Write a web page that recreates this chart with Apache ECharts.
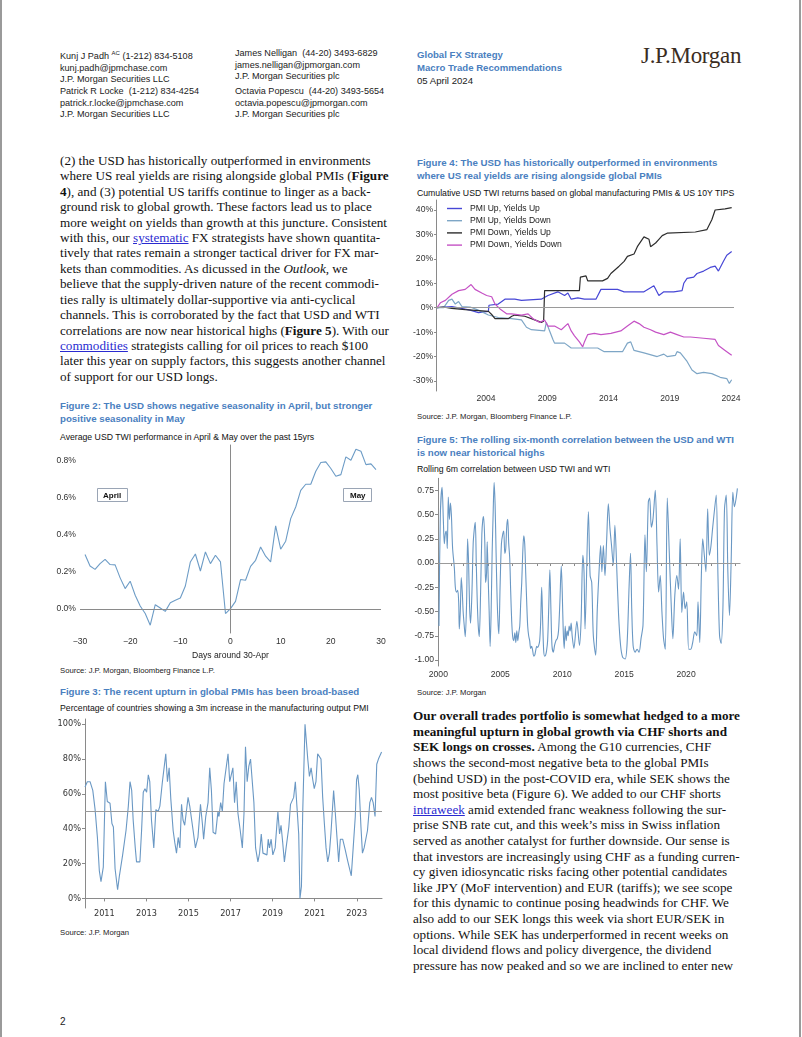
<!DOCTYPE html>
<html><head><meta charset="utf-8">
<script src="https://cdn.jsdelivr.net/npm/echarts@6/dist/echarts.min.js"></script>
<style>
html,body{margin:0;padding:0;background:#fff;}
body{width:802px;height:1037px;position:relative;overflow:hidden;font-family:"Liberation Sans",Arial,sans-serif;}
.t{position:absolute;white-space:nowrap;}
.hd{font-size:9.1px;line-height:11.6px;color:#222;}
.hb{font-size:9.6px;line-height:13px;color:#222;}
.blue{color:#4a80c0;font-weight:bold;}
.ft{font-weight:bold;color:#4a80c0;font-size:9.7px;line-height:13.3px;}
.st{font-size:8.7px;line-height:12px;color:#111;}
.src{font-size:7.7px;line-height:10px;color:#222;}
.body{font-family:"Liberation Serif","Times New Roman",serif;font-size:13.15px;color:#111;}
.ch{position:absolute;}
a{color:#2a2ad0;text-decoration:underline;}
.border{position:absolute;top:0;width:2px;height:1037px;background:#9a9a9a;}
</style>
</head><body>
<div class="border" style="left:0"></div>
<div class="border" style="left:799px"></div>

<div class="t hd" style="left:60px;top:48px">Kunj J Padh <sup style="font-size:6px">AC</sup> (1-212) 834-5108<br>kunj.padh@jpmchase.com<br>J.P. Morgan Securities LLC</div>
<div class="t hd" style="left:60px;top:86px">Patrick R Locke&nbsp; (1-212) 834-4254<br>patrick.r.locke@jpmchase.com<br>J.P. Morgan Securities LLC</div>
<div class="t hd" style="left:235px;top:48px">James Nelligan&nbsp; (44-20) 3493-6829<br>james.nelligan@jpmorgan.com<br>J.P. Morgan Securities plc</div>
<div class="t hd" style="left:235px;top:86px">Octavia Popescu&nbsp; (44-20) 3493-5654<br>octavia.popescu@jpmorgan.com<br>J.P. Morgan Securities plc</div>
<div class="t hb" style="left:417px;top:47.5px"><span class="blue">Global FX Strategy</span><br><span class="blue">Macro Trade Recommendations</span><br>05 April 2024</div>
<div class="t" style="left:641px;top:42px;font-family:'Liberation Serif',serif;font-size:23px;line-height:28px;color:#3a2c22;letter-spacing:-0.3px">J.P.Morgan</div>

<div class="t body" style="left:60px;top:152.8px;line-height:15.43px">(2) the USD has historically outperformed in environments<br>where US real yields are rising alongside global PMIs (<b>Figure</b><br><b>4</b>), and (3) potential US tariffs continue to linger as a back-<br>ground risk to global growth. These factors lead us to place<br>more weight on yields than growth at this juncture. Consistent<br>with this, our <a>systematic</a> FX strategists have shown quantita-<br>tively that rates remain a stronger tactical driver for FX mar-<br>kets than commodities. As dicussed in the <i>Outlook</i>, we<br>believe that the supply-driven nature of the recent commodi-<br>ties rally is ultimately dollar-supportive via anti-cyclical<br>channels. This is corroborated by the fact that USD and WTI<br>correlations are now near historical highs (<b>Figure 5</b>). With our<br><a>commodities</a> strategists calling for oil prices to reach $100<br>later this year on supply factors, this suggests another channel<br>of support for our USD longs.</div>

<div class="t body" style="left:413px;top:708.2px;line-height:15.6px"><b>Our overall trades portfolio is somewhat hedged to a more<br>meaningful upturn in global growth via CHF shorts and<br>SEK longs on crosses.</b> Among the G10 currencies, CHF<br>shows the second-most negative beta to the global PMIs<br>(behind USD) in the post-COVID era, while SEK shows the<br>most positive beta (Figure 6). We added to our CHF shorts<br><a>intraweek</a> amid extended franc weakness following the sur-<br>prise SNB rate cut, and this week’s miss in Swiss inflation<br>served as another catalyst for further downside. Our sense is<br>that investors are increasingly using CHF as a funding curren-<br>cy given idiosyncatic risks facing other potential candidates<br>like JPY (MoF intervention) and EUR (tariffs); we see scope<br>for this dynamic to continue posing headwinds for CHF. We<br>also add to our SEK longs this week via short EUR/SEK in<br>options. While SEK has underperformed in recent weeks on<br>local dividend flows and policy divergence, the dividend<br>pressure has now peaked and so we are inclined to enter new</div>

<div class="t ft" style="left:417px;top:156px">Figure 4: The USD has historically outperformed in environments<br>where US real yields are rising alongside global PMIs</div>
<div class="t st" style="left:417px;top:186.5px">Cumulative USD TWI returns based on global manufacturing PMIs &amp; US 10Y TIPS</div>
<div class="t src" style="left:417px;top:412px">Source: J.P. Morgan, Bloomberg Finance L.P.</div>

<div class="t ft" style="left:417px;top:433px">Figure 5: The rolling six-month correlation between the USD and WTI<br>is now near historical highs</div>
<div class="t st" style="left:417px;top:462.5px">Rolling 6m correlation between USD TWI and WTI</div>
<div class="t src" style="left:417px;top:688px">Source: J.P. Morgan</div>

<div class="t ft" style="left:60px;top:398.5px">Figure 2: The USD shows negative seasonality in April, but stronger<br>positive seasonality in May</div>
<div class="t st" style="left:60px;top:430.5px">Average USD TWI performance in April &amp; May over the past 15yrs</div>
<div class="t src" style="left:60px;top:666px">Source: J.P. Morgan, Bloomberg Finance L.P.</div>

<div class="t ft" style="left:60px;top:685px">Figure 3: The recent upturn in global PMIs has been broad-based</div>
<div class="t st" style="left:60px;top:702px">Percentage of countries showing a 3m increase in the manufacturing output PMI</div>
<div class="t src" style="left:60px;top:928px">Source: J.P. Morgan</div>

<div class="t" style="left:60px;top:1015px;font-size:10px;line-height:14px;color:#222">2</div>

<div id="c4" class="ch" style="left:410px;top:195px;width:392px;height:215px"></div>
<div id="c5" class="ch" style="left:410px;top:474px;width:392px;height:215px"></div>
<div id="c2" class="ch" style="left:50px;top:440px;width:350px;height:225px"></div>
<div id="c3" class="ch" style="left:50px;top:712px;width:350px;height:215px"></div>

<script>
// ---------- Figure 4 data: [year, cumulative return %] ----------
var pmiUpYieldsUp = [[2000,0],[2001.22,0.5],[2002.7,-1],[2003.38,-2],[2004.19,-1.5],[2004.24,1],[2005,1.5],[2005.54,3.5],[2006.35,3.5],[2006.89,3],[2008.51,3.5],[2009.05,5],[2009.86,6.5],[2010.41,5],[2010.68,6],[2010.95,3.5],[2011.49,4],[2012.03,3.5],[2012.97,3.5],[2013.38,7.5],[2014.73,7.5],[2015.27,6.5],[2016.89,6.5],[2017.7,9],[2018.11,5],[2018.51,6.5],[2019.32,6.5],[2020.0,7],[2020.14,10],[2020.41,12],[2020.95,12.5],[2021.22,14],[2021.76,15],[2022.3,16.5],[2022.7,17],[2022.97,15],[2023.38,19],[2023.65,21.5],[2024.05,23]];
var pmiUpYieldsDown = [[2000,0],[2000.54,0],[2000.95,3],[2001.22,3.5],[2001.49,1.5],[2001.76,2.5],[2002.03,0.5],[2002.7,0.3],[2003.38,-1],[2004.19,-3],[2005.0,-4],[2006.08,-4.5],[2006.89,-5],[2007.3,-8],[2007.7,-9],[2008.78,-9.5],[2008.92,-6],[2009.19,-9.5],[2009.46,-13],[2009.59,-14.5],[2010.41,-14.5],[2010.95,-16.5],[2012.03,-16.5],[2013.11,-16.5],[2013.65,-18],[2015.14,-18],[2015.54,-14.5],[2015.81,-14],[2016.08,-17.5],[2016.89,-18.5],[2017.97,-20],[2018.51,-19],[2018.78,-20],[2019.46,-19.5],[2019.59,-18],[2019.86,-18.5],[2020.41,-22],[2020.81,-25.5],[2021.22,-27],[2021.76,-26.5],[2022.43,-27],[2023.11,-28.5],[2023.65,-29],[2023.86,-31],[2024.05,-29.5]];
var pmiDownYieldsUp = [[2000.0,0],[2000.5,0.3],[2001.2,-0.3],[2002.3,-0.8],[2003.4,-1.2],[2004.2,-1.5],[2004.5,-3],[2004.73,-4.5],[2005.81,-4.5],[2006.1,-3.5],[2006.35,-3],[2007.16,-3.5],[2007.97,-5],[2008.51,-6],[2008.7,-5.5],[2008.78,7],[2011.62,7],[2011.7,12.5],[2012.16,13],[2012.3,11],[2012.43,10.5],[2013.51,11],[2013.92,12],[2014.19,14],[2014.86,17],[2015.27,19],[2015.54,21],[2016.08,22],[2016.35,25],[2016.89,29],[2017.3,28],[2017.43,25],[2017.84,26.5],[2018.11,28],[2018.38,29.5],[2018.78,30.5],[2021.08,31],[2022.03,32],[2022.43,36],[2022.7,40],[2023.51,40.5],[2024.05,41]];
var pmiDownYieldsDown = [[2000,0],[2000.27,2],[2000.68,3],[2001.22,5.5],[2001.76,7],[2002.3,7.5],[2002.78,9.5],[2003.1,7.5],[2003.65,6],[2004.05,5],[2004.46,4.5],[2004.73,1.5],[2005.14,-0.5],[2005.68,-2.5],[2006.08,-2.5],[2006.89,-3],[2007.43,-2.5],[2007.84,-4.5],[2008.38,-6],[2008.78,-5],[2009.05,-7.5],[2009.59,-7.5],[2010.14,-9],[2010.68,-6.5],[2010.95,-9.5],[2011.22,-11.5],[2011.62,-14],[2011.89,-16],[2012.03,-14],[2012.3,-11],[2012.84,-10.5],[2013.38,-11],[2014.19,-10.5],[2015.0,-9.5],[2015.54,-7.5],[2016.08,-5.5],[2016.49,-6.5],[2016.89,-8],[2017.43,-9],[2017.84,-10],[2018.51,-11],[2019.05,-10],[2019.59,-11],[2020.14,-12],[2020.68,-12],[2021.76,-12.5],[2022.7,-13],[2022.97,-15.5],[2023.51,-17.5],[2024.05,-19.5]];
var fig4Names = ['PMI Up, Yields Up','PMI Up, Yields Down','PMI Down, Yields Up','PMI Down, Yields Down'];
var fig4YTicks = [-30,-20,-10,0,10,20,30,40];
var fig4XTicks = [2004,2009,2014,2019,2024];

// ---------- Figure 2 data ----------
var seasonDays = [-29,-28,-27,-26,-25,-24,-23,-22,-21,-20,-19,-18,-17,-16,-15,-14,-13,-12,-11,-10,-9,-8,-7,-6,-5,-4,-3,-2,-1,0,1,2,3,4,5,6,7,8,9,10,11,12,13,14,15,16,17,18,19,20,21,22,23,24,25,26,27,28,29];
var seasonPerf = [0.294,0.232,0.214,0.245,0.268,0.24,0.238,0.168,0.11,0.15,0.074,0.016,-0.025,-0.088,0.023,0.005,-0.013,0.034,0.047,0.059,0.124,0.254,0.297,0.205,0.308,0.245,0.29,0.254,-0.025,0.002,0.041,0.159,0.155,0.23,0.263,0.335,0.285,0.254,0.449,0.323,0.366,0.488,0.551,0.641,0.674,0.674,0.744,0.791,0.795,0.759,0.717,0.726,0.822,0.804,0.863,0.852,0.78,0.784,0.753];
var fig2XTicks = [-30,-20,-10,0,10,20,30];
var fig2YTicks = [0,0.2,0.4,0.6,0.8];

// ---------- Figure 3 data: [year, % of countries] ----------
var pmiBreadth = [[2010.08,64],[2010.19,67],[2010.32,67],[2010.45,62],[2010.56,51],[2010.67,35],[2010.76,16],[2010.84,9.6],[2010.95,18],[2011.05,67],[2011.14,55.6],[2011.27,54.6],[2011.36,43],[2011.43,41],[2011.51,17],[2011.58,17],[2011.63,5],[2011.71,12.5],[2011.77,13],[2011.87,25],[2011.93,25.5],[2012.03,39],[2012.14,53],[2012.22,67],[2012.30,62],[2012.37,45],[2012.47,29],[2012.53,21],[2012.69,21],[2012.77,39],[2012.85,61],[2012.93,63],[2013.01,61],[2013.09,71],[2013.16,67],[2013.24,45],[2013.35,29],[2013.45,51],[2013.56,50],[2013.64,53],[2013.76,67],[2013.84,67],[2013.92,83],[2014.00,67],[2014.08,75],[2014.16,57],[2014.27,39],[2014.35,32],[2014.43,26],[2014.51,35],[2014.59,29],[2014.67,54],[2014.74,45],[2014.82,42],[2014.90,42],[2014.98,58],[2015.06,53],[2015.14,54],[2015.22,39],[2015.33,29],[2015.45,35],[2015.57,54],[2015.66,43],[2015.72,34],[2015.82,47],[2015.93,55],[2016.01,75],[2016.09,62],[2016.17,38],[2016.29,37],[2016.40,50],[2016.45,47],[2016.53,55],[2016.61,50],[2016.69,66],[2016.77,66],[2016.88,83],[2016.96,67],[2017.03,67],[2017.11,75],[2017.19,55],[2017.27,67],[2017.35,49],[2017.46,39],[2017.56,29],[2017.64,49],[2017.71,87],[2017.79,67],[2017.87,76],[2017.95,80],[2018.03,80],[2018.11,55],[2018.19,29],[2018.30,21],[2018.38,26],[2018.46,37],[2018.54,26],[2018.61,25],[2018.73,25],[2018.79,34],[2018.85,29],[2018.93,34],[2019.01,25],[2019.12,29],[2019.25,50],[2019.33,37],[2019.40,42],[2019.48,32],[2019.56,21],[2019.64,29],[2019.77,41],[2019.85,54],[2019.93,54],[2020.00,58],[2020.08,67],[2020.16,67],[2020.24,37],[2020.30,0],[2020.37,7],[2020.43,49],[2020.54,100],[2020.60,100],[2020.67,80],[2020.75,70],[2020.83,75],[2020.91,68],[2020.98,63],[2021.06,67],[2021.14,83],[2021.22,83],[2021.30,80],[2021.38,58],[2021.46,43],[2021.54,29],[2021.62,21],[2021.70,26],[2021.77,37],[2021.90,62],[2021.98,49],[2022.06,35],[2022.14,21],[2022.22,34],[2022.33,34],[2022.45,28],[2022.56,22],[2022.64,18],[2022.74,13],[2022.83,29],[2022.93,47],[2022.99,68],[2023.05,71],[2023.12,62],[2023.20,41],[2023.27,26],[2023.35,29],[2023.43,29],[2023.51,39],[2023.62,55],[2023.70,58],[2023.78,55],[2023.87,47],[2023.95,77],[2024.03,80],[2024.11,80],[2024.18,84]];
var fig3XTicks = [2011,2013,2015,2017,2019,2021,2023];
var fig3YTicks = [0,20,40,60,80,100];

// ---------- Figure 5 data: [year, correlation] ----------
var usdWtiCorr = [[2000.05,-0.65],[2000.16,0.5],[2000.3,0.78],[2000.4,0.45],[2000.48,0.2],[2000.56,0.3],[2000.64,0.33],[2000.72,0.15],[2000.8,0.68],[2000.89,0.45],[2000.97,0.62],[2001.05,0.5],[2001.15,0.15],[2001.29,-0.05],[2001.37,-0.25],[2001.47,-0.3],[2001.56,-0.28],[2001.64,-0.4],[2001.69,-0.68],[2001.77,-0.5],[2001.85,-0.15],[2001.93,-0.3],[2002.0,-0.5],[2002.09,-0.65],[2002.17,-0.76],[2002.28,-0.4],[2002.36,0.25],[2002.44,0.0],[2002.52,-0.45],[2002.6,-0.62],[2002.71,-0.3],[2002.81,0.2],[2002.9,0.35],[2002.98,0.42],[2003.06,0.0],[2003.14,-0.4],[2003.22,-0.65],[2003.3,-0.76],[2003.41,-0.3],[2003.51,0.3],[2003.59,0.45],[2003.65,0.48],[2003.75,0.2],[2003.81,-0.2],[2003.89,-0.1],[2003.94,0.22],[2004.02,-0.15],[2004.1,-0.5],[2004.18,-0.86],[2004.26,-0.5],[2004.34,0.1],[2004.42,0.5],[2004.5,0.83],[2004.58,0.6],[2004.66,0.1],[2004.75,-0.4],[2004.83,-0.65],[2004.88,-0.73],[2004.99,-0.2],[2005.09,0.2],[2005.2,0.3],[2005.28,0.33],[2005.36,0.1],[2005.44,0.15],[2005.52,0.38],[2005.6,0.45],[2005.68,0.2],[2005.76,0.05],[2005.84,-0.3],[2005.92,-0.6],[2006.0,-0.76],[2006.09,-0.8],[2006.17,-0.72],[2006.25,-0.82],[2006.33,-0.7],[2006.41,-0.8],[2006.49,-0.72],[2006.57,-0.65],[2006.65,-0.4],[2006.73,-0.2],[2006.81,0.1],[2006.89,0.28],[2006.97,0.2],[2007.05,-0.1],[2007.13,-0.4],[2007.21,-0.65],[2007.29,-0.75],[2007.37,-0.8],[2007.45,-0.88],[2007.53,-0.86],[2007.61,-0.9],[2007.7,-0.96],[2007.78,-0.95],[2007.86,-0.9],[2007.94,-0.86],[2008.02,-0.87],[2008.1,-0.85],[2008.18,-0.8],[2008.26,-0.6],[2008.34,-0.25],[2008.42,-0.6],[2008.5,-0.9],[2008.58,-0.96],[2008.66,-0.95],[2008.74,-0.9],[2008.82,-0.8],[2008.9,-0.5],[2009.0,-0.07],[2009.09,-0.5],[2009.17,-0.85],[2009.28,-0.92],[2009.38,-0.85],[2009.49,-0.8],[2009.6,-0.78],[2009.7,-0.7],[2009.81,-0.4],[2009.92,-0.03],[2010.0,-0.3],[2010.08,-0.7],[2010.16,-0.88],[2010.24,-0.65],[2010.32,-0.8],[2010.4,-0.7],[2010.48,-0.75],[2010.56,-0.65],[2010.64,-0.7],[2010.72,-0.62],[2010.8,-0.75],[2010.94,-0.88],[2011.18,-0.6],[2011.39,-0.85],[2011.52,-0.6],[2011.66,0.08],[2011.76,-0.1],[2011.84,-0.68],[2012.11,0.53],[2012.25,-0.13],[2012.38,-0.2],[2012.51,-0.75],[2012.7,-0.95],[2012.83,-0.47],[2012.97,-0.09],[2013.1,0.18],[2013.2,-0.09],[2013.32,0.18],[2013.45,-0.13],[2013.58,0.22],[2013.72,0.61],[2013.85,0.36],[2013.98,0.18],[2014.12,-0.02],[2014.25,0.39],[2014.39,-0.02],[2014.55,-0.54],[2014.71,-0.85],[2014.87,-0.97],[2015.08,-0.99],[2015.24,-0.82],[2015.4,-0.23],[2015.51,0.1],[2015.61,-0.47],[2015.72,-0.85],[2015.88,-0.92],[2016.04,-0.89],[2016.2,-0.92],[2016.36,-0.78],[2016.52,-0.64],[2016.68,0.29],[2016.79,-0.09],[2016.95,0.63],[2017.06,0.67],[2017.19,0.37],[2017.33,0.46],[2017.51,0.75],[2017.65,0.18],[2017.78,-0.3],[2017.91,-0.13],[2018.05,-0.51],[2018.18,-0.78],[2018.32,-0.89],[2018.48,0.67],[2018.66,0.04],[2018.8,-0.44],[2018.93,-0.78],[2019.09,-0.33],[2019.25,-0.13],[2019.39,-0.27],[2019.52,0.25],[2019.65,-0.51],[2019.79,-0.3],[2019.92,-0.47],[2020.05,-0.4],[2020.21,-0.89],[2020.37,-0.89],[2020.53,-0.82],[2020.7,-0.71],[2020.86,-0.75],[2020.96,-0.4],[2021.1,-0.82],[2021.23,-0.13],[2021.34,0.25],[2021.47,0.08],[2021.6,-0.09],[2021.74,0.56],[2021.87,0.08],[2022.0,0.17],[2022.14,0.36],[2022.3,0.56],[2022.43,0.7],[2022.57,-0.13],[2022.7,-0.75],[2022.83,-0.83],[2022.97,-0.47],[2023.1,0.56],[2023.24,0.7],[2023.37,-0.09],[2023.5,-0.54],[2023.64,0.04],[2023.77,0.73],[2023.9,0.58],[2024.04,0.67],[2024.14,0.77]];
var fig5XTicks = [2000,2005,2010,2015,2020];
var fig5XMinorTicks = [2000,2001,2002,2003,2004,2005,2006,2007,2008,2009,2010,2011,2012,2013,2014,2015,2016,2017,2018,2019,2020,2021,2022,2023,2024];
var fig5YTicks = [-1,-0.75,-0.5,-0.25,0,0.25,0.5,0.75];

var AX = '#8a8a8a';
function yearFmt(v){ return String(Math.round(v)); }
function zeroLine(axis, val){
  var d = {}; d[axis] = val;
  return {silent:true,symbol:'none',label:{show:false},lineStyle:{color:'#9a9a9a',width:1,type:'solid'},data:[d]};
}

// Figure 4
var c4 = echarts.init(document.getElementById('c4'));
var fig4Colors = ['#4747d6','#7ea6c6','#2d2d2d','#c552c5'];
var fig4Data = [pmiUpYieldsUp, pmiUpYieldsDown, pmiDownYieldsUp, pmiDownYieldsDown];
c4.setOption({
  animation:false,
  grid:{left:26,top:5,width:298,height:191},
  legend:{orient:'vertical',left:32,top:4,icon:'rect',itemWidth:15,itemHeight:1.4,itemGap:3.2,data:fig4Names,
    textStyle:{fontSize:8.6,color:'#222',fontFamily:'Liberation Sans',padding:[0,0,0,3]}},
  xAxis:{type:'value',min:1999.92,max:2024.24,axisLine:{show:false},axisTick:{show:false},splitLine:{show:false},
    axisLabel:{customValues:fig4XTicks,formatter:yearFmt,fontSize:8.6,color:'#333',margin:3,fontFamily:'Liberation Sans'}},
  yAxis:{type:'value',min:-34.1,max:44.1,axisLine:{show:true,lineStyle:{color:AX}},
    axisTick:{show:true,length:2,customValues:fig4YTicks,lineStyle:{color:AX}},splitLine:{show:false},
    axisLabel:{customValues:fig4YTicks,formatter:function(v){return v+'%';},fontSize:8.6,color:'#333',margin:3,fontFamily:'Liberation Sans'}},
  series:fig4Data.map(function(d,i){
    var s = {name:fig4Names[i],type:'line',data:d,symbol:'none',lineStyle:{width:1.2,color:fig4Colors[i]},itemStyle:{color:fig4Colors[i]}};
    if(i===0){ s.markLine = zeroLine('yAxis',0); }
    return s;
  })
});

// Figure 2
var c2 = echarts.init(document.getElementById('c2'));
var lbl2 = {fontSize:8.6,color:'#333',fontFamily:'Liberation Sans'};
c2.setOption({
  animation:false,
  grid:{left:30,top:5,width:301,height:188},
  xAxis:{type:'value',min:-30,max:30,name:'Days around 30-Apr',nameLocation:'middle',nameGap:15,
    nameTextStyle:{fontSize:8.6,color:'#222',fontFamily:'Liberation Sans'},
    axisLine:{show:false},axisTick:{show:false},splitLine:{show:false},
    axisLabel:Object.assign({customValues:fig2XTicks,margin:4,formatter:function(v){return String(v).replace('-','\u2212');}},lbl2)},
  yAxis:{type:'value',min:-0.13,max:0.886,axisLine:{show:true,lineStyle:{color:AX}},axisTick:{show:false},splitLine:{show:false},
    axisLabel:Object.assign({customValues:fig2YTicks,margin:4,formatter:function(v){return v.toFixed(1)+'%';}},lbl2)},
  series:[{type:'line',data:seasonDays.map(function(d,i){return [d,seasonPerf[i]];}),symbol:'none',
    lineStyle:{width:1.1,color:'#6d9cc6'},
    markLine:{silent:true,symbol:'none',label:{show:false},lineStyle:{color:'#8a8a8a',width:1,type:'solid'},data:[{yAxis:0},{xAxis:0}]}}],
  graphic:[
    {type:'rect',left:47,top:48,shape:{width:30,height:13},style:{fill:'#fff',stroke:'#9aa5b5',lineWidth:1}},
    {type:'text',left:53,top:51.5,style:{text:'April',font:'bold 8px "Liberation Sans"',fill:'#111'}},
    {type:'rect',left:293,top:48,shape:{width:28,height:13},style:{fill:'#fff',stroke:'#9aa5b5',lineWidth:1}},
    {type:'text',left:300,top:51.5,style:{text:'May',font:'bold 8px "Liberation Sans"',fill:'#111'}}
  ]
});

// Figure 3
var c3 = echarts.init(document.getElementById('c3'));
var lbl3 = {fontSize:8.2,color:'#333',fontFamily:'DejaVu Sans'};
c3.setOption({
  animation:false,
  grid:{left:35,top:7,width:297,height:189},
  xAxis:{type:'value',min:2010.08,max:2024.2,axisLine:{show:true,lineStyle:{color:AX}},
    axisTick:{show:true,length:3,customValues:fig3XTicks,lineStyle:{color:AX}},splitLine:{show:false},
    axisLabel:Object.assign({customValues:fig3XTicks,formatter:yearFmt,margin:2},lbl3)},
  yAxis:{type:'value',min:-5.5,max:103,axisLine:{show:true,lineStyle:{color:AX}},
    axisTick:{show:true,length:3,customValues:fig3YTicks,lineStyle:{color:AX}},splitLine:{show:false},
    axisLabel:Object.assign({customValues:fig3YTicks,margin:4,formatter:function(v){return v+'%';}},lbl3)},
  series:[{type:'line',data:pmiBreadth,symbol:'none',lineStyle:{width:1.1,color:'#6a98c4'},
    markLine:zeroLine('yAxis',50)}]
});

// Figure 5
var c5 = echarts.init(document.getElementById('c5'));
var lbl5 = {fontSize:8.6,color:'#333',fontFamily:'Liberation Sans'};
c5.setOption({
  animation:false,
  grid:{left:28,top:4.3,width:302,height:187.7},
  xAxis:{type:'value',min:1999.97,max:2024.35,axisLine:{show:true,lineStyle:{color:AX}},
    axisTick:{show:true,length:3,customValues:fig5XMinorTicks,lineStyle:{color:AX}},splitLine:{show:false},
    axisLabel:Object.assign({customValues:fig5XTicks,formatter:yearFmt,margin:4},lbl5)},
  yAxis:{type:'value',min:-1.062,max:0.874,axisLine:{show:true,lineStyle:{color:AX}},
    axisTick:{show:true,length:3,customValues:fig5YTicks,lineStyle:{color:AX}},splitLine:{show:false},
    axisLabel:Object.assign({customValues:fig5YTicks,margin:4,formatter:function(v){return v.toFixed(2);}},lbl5)},
  series:[{type:'line',data:usdWtiCorr,symbol:'none',smooth:0.3,lineStyle:{width:1.1,color:'#6a98c4'},
    markLine:zeroLine('yAxis',0)}]
});
</script>
</body></html>
